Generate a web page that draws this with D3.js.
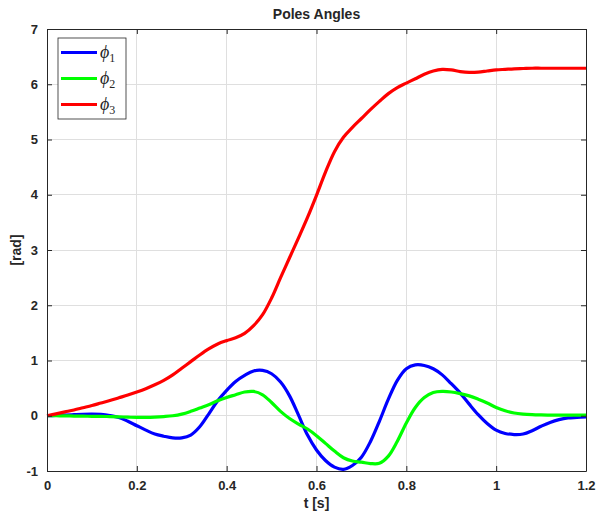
<!DOCTYPE html>
<html>
<head>
<meta charset="utf-8">
<script src="https://cdn.jsdelivr.net/npm/d3@7"></script>
<style>
  body { margin: 0; background: #fff; }
  svg { display: block; font-family: "Liberation Sans", Arial, sans-serif; }
</style>
</head>
<body>
<svg id="chart" width="598" height="518"></svg>
<script>
// Sample times [s]
const time = d3.range(0, 61).map(i => +(i * 0.02).toFixed(2));

// Pole angle phi1 [rad]
const phi1 = [
  0, 0.005, 0.012, 0.02, 0.027, 0.03, 0.025, 0.005, -0.03, -0.10,
  -0.18, -0.26, -0.33, -0.37, -0.40, -0.40, -0.35, -0.20, 0.03, 0.27,
  0.46, 0.62, 0.73, 0.81, 0.82, 0.76, 0.61, 0.36, 0.01, -0.35,
  -0.62, -0.81, -0.93, -0.97, -0.90, -0.75, -0.47, -0.10, 0.30, 0.64,
  0.85, 0.92, 0.91, 0.85, 0.74, 0.58, 0.41, 0.21, 0.02, -0.14,
  -0.26, -0.32, -0.34, -0.33, -0.27, -0.19, -0.12, -0.07, -0.04, -0.03,
  -0.02
];

// Pole angle phi2 [rad]
const phi2 = [
  0, 0, -0.002, -0.005, -0.008, -0.01, -0.012, -0.015, -0.02, -0.025,
  -0.03, -0.03, -0.025, -0.015, 0.0, 0.03, 0.08, 0.14, 0.20, 0.27,
  0.33, 0.38, 0.43, 0.44, 0.38, 0.24, 0.08, -0.05, -0.15, -0.24,
  -0.36, -0.50, -0.64, -0.76, -0.82, -0.84, -0.865, -0.86, -0.73, -0.46,
  -0.13, 0.15, 0.33, 0.42, 0.44, 0.43, 0.40, 0.36, 0.30, 0.23,
  0.15, 0.09, 0.05, 0.03, 0.02, 0.015, 0.012, 0.012, 0.012, 0.012,
  0.012
];

// Pole angle phi3 [rad]
const phi3 = [
  0, 0.035, 0.07, 0.105, 0.145, 0.185, 0.23, 0.275, 0.325, 0.375,
  0.43, 0.49, 0.56, 0.64, 0.74, 0.86, 0.98, 1.10, 1.21, 1.30,
  1.36, 1.41, 1.49, 1.63, 1.83, 2.13, 2.50, 2.86, 3.22, 3.59,
  3.99, 4.41, 4.78, 5.04, 5.22, 5.38, 5.54, 5.69, 5.83, 5.94,
  6.02, 6.10, 6.18, 6.24, 6.27, 6.26, 6.23, 6.215, 6.22, 6.24,
  6.26, 6.27, 6.28, 6.285, 6.29, 6.29, 6.29, 6.29, 6.29, 6.29,
  6.29
];

const seriesNames = ["1", "2", "3"];
const seriesColors = ["#0000ff", "#00ff00", "#ff0000"];
const xTicks = [0, 0.2, 0.4, 0.6, 0.8, 1, 1.2];
const yTicks = [-1, 0, 1, 2, 3, 4, 5, 6, 7];

const svg = d3.select("#chart");
const margin = { left: 47, top: 29, right: 598 - 586, bottom: 518 - 471 };
const W = 598 - margin.left - margin.right;
const H = 518 - margin.top - margin.bottom;
const axisColor = "#262626";

const x = d3.scaleLinear().domain([0, 1.2]).range([0, W]);
const y = d3.scaleLinear().domain([-1, 7]).range([H, 0]);

const g = svg.append("g").attr("transform", `translate(${margin.left},${margin.top})`);

// grid
g.append("g").selectAll("line").data(xTicks).join("line")
  .attr("x1", d => x(d)).attr("x2", d => x(d)).attr("y1", 0).attr("y2", H)
  .attr("stroke", "#dfdfdf").attr("stroke-width", 1).attr("shape-rendering", "crispEdges");
g.append("g").selectAll("line").data(yTicks).join("line")
  .attr("y1", d => y(d)).attr("y2", d => y(d)).attr("x1", 0).attr("x2", W)
  .attr("stroke", "#dfdfdf").attr("stroke-width", 1).attr("shape-rendering", "crispEdges");

// lines
const series = [phi1, phi2, phi3];
const line = d3.line().x((d, i) => x(time[i])).y(d => y(d)).curve(d3.curveCatmullRom.alpha(0.5));
g.append("g").selectAll("path").data(series).join("path")
  .attr("d", d => line(d))
  .attr("fill", "none")
  .attr("stroke", (d, i) => seriesColors[i])
  .attr("stroke-width", 3.2)
  .attr("stroke-linejoin", "round");

// axes (ticks inward, box on all sides)
function styleAxis(sel) {
  sel.select(".domain").attr("stroke", axisColor).attr("stroke-width", 1);
  sel.selectAll(".tick line").attr("stroke", axisColor);
  sel.selectAll(".tick text").attr("fill", axisColor)
    .attr("font-size", 13).attr("font-weight", "bold");
}
const fmt = d => String(d);
g.append("g").attr("transform", `translate(0,${H})`)
  .call(d3.axisBottom(x).tickValues(xTicks).tickFormat(fmt).tickSizeInner(-5).tickSizeOuter(0).tickPadding(10))
  .call(styleAxis);
g.append("g")
  .call(d3.axisTop(x).tickValues(xTicks).tickFormat("").tickSizeInner(-5).tickSizeOuter(0))
  .call(styleAxis);
g.append("g")
  .call(d3.axisLeft(y).tickValues(yTicks).tickFormat(fmt).tickSizeInner(-5).tickSizeOuter(0).tickPadding(9))
  .call(styleAxis);
g.append("g").attr("transform", `translate(${W},0)`)
  .call(d3.axisRight(y).tickValues(yTicks).tickFormat("").tickSizeInner(-5).tickSizeOuter(0))
  .call(styleAxis);

// titles
svg.append("text").attr("x", margin.left + W / 2).attr("y", 19)
  .attr("text-anchor", "middle").attr("font-size", 14).attr("font-weight", "bold")
  .attr("fill", axisColor).text("Poles Angles");
svg.append("text").attr("x", margin.left + W / 2).attr("y", 508)
  .attr("text-anchor", "middle").attr("font-size", 14).attr("font-weight", "bold")
  .attr("fill", axisColor).text("t [s]");
svg.append("text").attr("transform", `translate(21,${margin.top + H / 2}) rotate(-90)`)
  .attr("text-anchor", "middle").attr("font-size", 14).attr("font-weight", "bold")
  .attr("fill", axisColor).text("[rad]");

// legend
const lg = svg.append("g").attr("transform", "translate(58,38)");
lg.append("rect").attr("x", 0).attr("y", 0).attr("width", 68).attr("height", 81)
  .attr("fill", "#fff").attr("stroke", axisColor).attr("stroke-width", 0.8);
const items = lg.selectAll("g.item").data(seriesNames).join("g")
  .attr("class", "item")
  .attr("transform", (d, i) => `translate(0,${14.5 + i * 26})`);
items.append("line").attr("x1", 3).attr("x2", 39).attr("y1", 0).attr("y2", 0)
  .attr("stroke", (d, i) => seriesColors[i]).attr("stroke-width", 3.2);
const lt = items.append("text").attr("x", 42).attr("y", 5)
  .attr("font-family", "'Liberation Serif', 'DejaVu Serif', serif")
  .attr("fill", axisColor);
lt.append("tspan").attr("font-size", 18).attr("font-style", "italic").text("\u03D5");
lt.append("tspan").attr("font-size", 12).attr("dy", 4).text(d => d);
</script>
</body>
</html>
